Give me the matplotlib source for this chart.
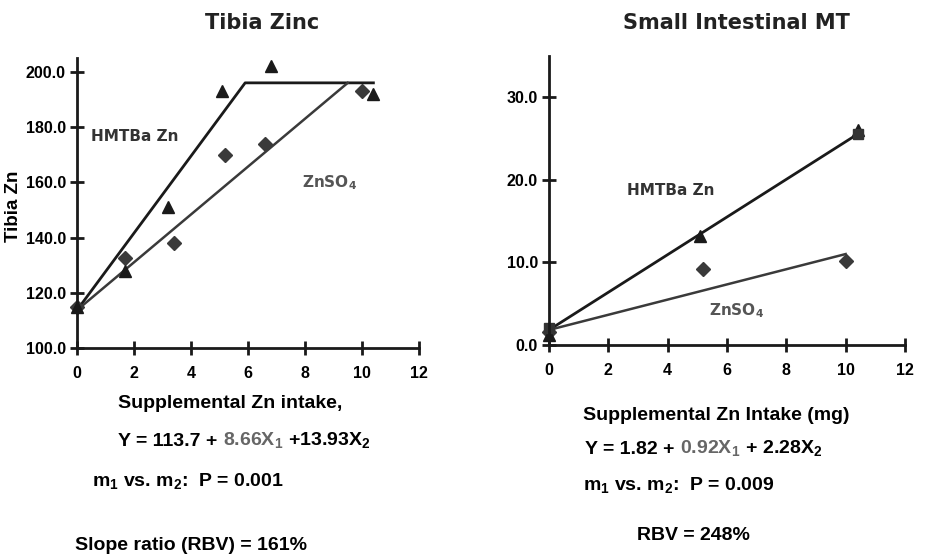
import matplotlib
matplotlib.use('Agg')
import matplotlib.pyplot as plt
from matplotlib.text import Annotation

plt.rcParams['font.family'] = ['Liberation Sans', 'DejaVu Sans']
plt.rcParams['font.weight'] = 'bold'
plt.rcParams['mathtext.default'] = 'regular'

# Tibia zinc data (mg supplemental Zn vs tibia Zn)
tibia_hmtba_x = [0, 1.7, 3.2, 5.1, 6.8, 10.4]
tibia_hmtba_y = [115, 128, 151, 193, 202, 192]
tibia_znso4_x = [0, 1.7, 3.4, 5.2, 6.6, 10.0]
tibia_znso4_y = [115, 132.5, 138, 170, 174, 193]
# broken-line fits
tibia_hmtba_fit_x = [0, 5.9, 10.4]
tibia_hmtba_fit_y = [113.7, 196, 196]
tibia_znso4_fit_x = [0, 9.5]
tibia_znso4_fit_y = [113.7, 196]

# Small intestinal MT data
mt_hmtba_x = [0, 5.1, 10.4]
mt_hmtba_y = [1.2, 13.2, 26]
mt_znso4_x = [0, 5.2, 10.0]
mt_znso4_y = [1.6, 9.2, 10.1]
mt_square_x = [0, 10.4]
mt_square_y = [2.0, 25.5]
mt_hmtba_fit_x = [0, 10.4]
mt_hmtba_fit_y = [1.82, 25.5]
mt_znso4_fit_x = [0, 10.0]
mt_znso4_fit_y = [1.82, 11.0]

xticks = [0, 2, 4, 6, 8, 10, 12]
tibia_yticks = [100, 120, 140, 160, 180, 200]
mt_yticks = [0, 10, 20, 30]

# equations, pieces with their colour
left_eq = [('Y = 113.7 + ', 'black'), ('8.66X$_1$', '#666666'),
           (' +13.93X$_2$', 'black')]
right_eq = [('Y = 1.82 + ', 'black'), ('0.92X$_1$', '#666666'),
            (' + 2.28X$_2$', 'black')]

W, H = 932, 557
dark = '#1a1a1a'
gray = '#3a3a3a'
txtgray = '#555555'


def fx(px):
    return px / W


def fy(py):
    return 1 - py / H


def style_axes(ax, yticks, fmt):
    ax.spines['top'].set_visible(False)
    ax.spines['right'].set_visible(False)
    for s in ['left', 'bottom']:
        ax.spines[s].set_linewidth(2)
        ax.spines[s].set_color(dark)
    ax.set_xticks(xticks)
    ax.set_xticklabels([str(t) for t in xticks])
    ax.set_yticks(yticks)
    ax.set_yticklabels([fmt % t for t in yticks])
    ax.tick_params(direction='inout', length=10, width=2, color=dark,
                   labelsize=11.5, pad=3)
    ax.tick_params(axis='x', pad=8)
    for lab in ax.get_xticklabels() + ax.get_yticklabels():
        lab.set_fontweight('bold')


def colored_line(pieces, x, y, size=14):
    # put each piece right after the previous one on the same line
    prev = fig.text(fx(x), fy(y), pieces[0][0], fontsize=size,
                    fontweight='bold', color=pieces[0][1], ha='left',
                    va='center')
    for s, c in pieces[1:]:
        prev = fig.add_artist(Annotation(
            s, xy=(1, 0), xycoords=prev, fontsize=size, fontweight='bold',
            color=c, ha='left', va='bottom'))


fig = plt.figure(figsize=(9.32, 5.57), dpi=100)

# ---- left panel: Tibia Zinc
ax1 = fig.add_axes([fx(77), fy(348), fx(419) - fx(77), fy(58) - fy(348)])
ax1.set_xlim(0, 12)
ax1.set_ylim(100, 205)
ax1.plot(tibia_hmtba_fit_x, tibia_hmtba_fit_y, color=dark, lw=2, clip_on=False)
ax1.plot(tibia_znso4_fit_x, tibia_znso4_fit_y, color=gray, lw=1.8, clip_on=False)
ax1.plot(tibia_znso4_x, tibia_znso4_y, 'D', color=gray, ms=7, clip_on=False)
ax1.plot(tibia_hmtba_x, tibia_hmtba_y, '^', color=dark, ms=9, clip_on=False)
style_axes(ax1, tibia_yticks, '%.1f')
ax1.text(0.5, 176.5, 'HMTBa Zn', family='DejaVu Sans', fontsize=11,
         fontweight='bold', color='#333333', va='center')
ax1.text(7.9, 159.8, 'ZnSO$_4$', family='DejaVu Sans', fontsize=11,
         fontweight='bold', color=txtgray, va='center')
fig.text(fx(262), fy(23), 'Tibia Zinc', family='DejaVu Sans', fontsize=15,
         fontweight='bold', ha='center', va='center', color='#222222')
fig.text(fx(13), fy(206), 'Tibia Zn', fontsize=13.5, fontweight='bold',
         rotation=90, ha='center', va='center')

# ---- right panel: Small Intestinal MT
ax2 = fig.add_axes([fx(549), fy(345), fx(905) - fx(549), fy(55.6) - fy(345)])
ax2.set_xlim(0, 12)
ax2.set_ylim(0, 35)
ax2.plot(mt_hmtba_fit_x, mt_hmtba_fit_y, color=dark, lw=2, clip_on=False)
ax2.plot(mt_znso4_fit_x, mt_znso4_fit_y, color=gray, lw=1.8, clip_on=False)
ax2.plot(mt_znso4_x, mt_znso4_y, 'D', color=gray, ms=7, clip_on=False)
ax2.plot(mt_hmtba_x, mt_hmtba_y, '^', color=dark, ms=9, clip_on=False)
ax2.plot(mt_square_x, mt_square_y, 's', color='#333333', ms=7, clip_on=False)
style_axes(ax2, mt_yticks, '%.1f')
ax2.text(2.63, 18.7, 'HMTBa Zn', family='DejaVu Sans', fontsize=11,
         fontweight='bold', color='#333333', va='center')
ax2.text(5.4, 4.2, 'ZnSO$_4$', family='DejaVu Sans', fontsize=11,
         fontweight='bold', color=txtgray, va='center')
fig.text(fx(736), fy(23), 'Small Intestinal MT', family='DejaVu Sans',
         fontsize=15, fontweight='bold', ha='center', va='center',
         color='#222222')

# ---- text blocks below the panels
fig.text(fx(118), fy(404), 'Supplemental Zn intake,', fontsize=14,
         fontweight='bold', va='center')
colored_line(left_eq, 118, 442)
fig.text(fx(92), fy(481), 'm$_1$ vs. m$_2$:  P = 0.001', fontsize=14,
         fontweight='bold', va='center')
fig.text(fx(75), fy(546), 'Slope ratio (RBV) = 161%', fontsize=14,
         fontweight='bold', va='center')

fig.text(fx(583), fy(416), 'Supplemental Zn Intake (mg)', fontsize=14,
         fontweight='bold', va='center')
colored_line(right_eq, 585, 449)
fig.text(fx(583), fy(485), 'm$_1$ vs. m$_2$:  P = 0.009', fontsize=14,
         fontweight='bold', va='center')
fig.text(fx(637), fy(535), 'RBV = 248%', fontsize=14, fontweight='bold',
         va='center')

fig.savefig('out.png', dpi=100)
